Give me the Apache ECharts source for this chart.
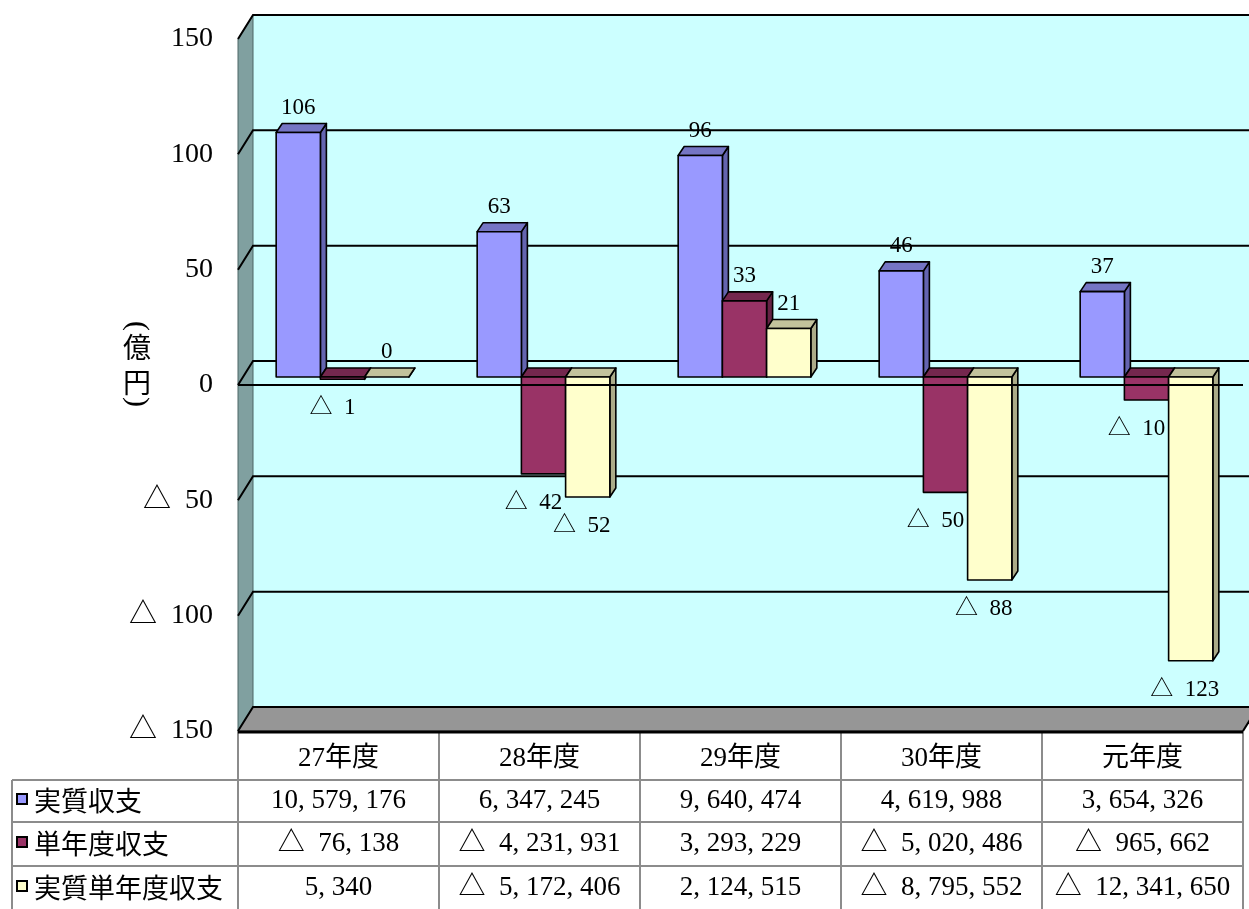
<!DOCTYPE html>
<html>
<head>
<meta charset="utf-8">
<title>実質収支・単年度収支・実質単年度収支の推移</title>
<script src="https://cdn.jsdelivr.net/npm/echarts/dist/echarts.min.js"></script>
<style>
  html, body { margin: 0; padding: 0; background: #ffffff; }
  #chart { width: 1249px; height: 909px; }
</style>
</head>
<body>
<div id="chart"></div>
<script>
// ---- data -------------------------------------------------------------
const categories = ['27年度', '28年度', '29年度', '30年度', '元年度'];
const seriesNames = ['実質収支', '単年度収支', '実質単年度収支'];

// 億円 (rounded), used for bar heights and bar labels
const realBalance = [106, 63, 96, 46, 37];
const singleYearBalance = [-1, -42, 33, -50, -10];
const realSingleYearBalance = [0, -52, 21, -88, -123];

// 千円, shown in the data table under the chart
const realBalanceTable = [10579176, 6347245, 9640474, 4619988, 3654326];
const singleYearBalanceTable = [-76138, -4231931, 3293229, -5020486, -965662];
const realSingleYearBalanceTable = [5340, -5172406, 2124515, -8795552, -12341650];

// value axis range (億円)
const yMin = -150;
const yMax = 150;
const yStep = 50;
const unitLabel = ['(', '億', '円', ')'];

// ---- layout & style ---------------------------------------------------
const W = 1249, H = 909;
const GRID = { left: 238, right: 6, top: 39, bottom: 178 };
const WALL = { dx: 15, dy: -24 };        // depth of the back wall
const BAR_PLANE = { dx: 4, dy: -8 };     // where bar front faces sit
const BAR_DEPTH = { dx: 6, dy: -9 };     // thickness of each bar
const BAR_RATIO = 0.22;                  // bar width / category band
const NEG_LABEL_NUDGE = [0, -10, -6];    // horizontal nudge of negative labels per series

const SERIF = '"Liberation Serif", "Noto Sans CJK JP", serif';
const SANS_JP = '"Noto Sans CJK JP", sans-serif';
const NEG = '△  ';

const palette = [
  { front: '#9999ff', top: '#7575c4', side: '#6464b0' },
  { front: '#993366', top: '#74274e', side: '#662244' },
  { front: '#ffffcc', top: '#c2c29c', side: '#abab88' }
];

const barSeriesValues = [realBalance, singleYearBalance, realSingleYearBalance];
const tableValues = [realBalanceTable, singleYearBalanceTable, realSingleYearBalanceTable];

function fmtOku(v) {
  return v < 0 ? NEG + (-v) : String(v);
}
function fmtSen(n) {
  const s = Math.abs(n).toString().replace(/\B(?=(\d{3})+(?!\d))/g, ', ');
  return n < 0 ? NEG + s : s;
}

// ---- walls, floor and gridlines ---------------------------------------
function renderFrame(params, api) {
  const cs = params.coordSys;
  const x0 = cs.x, x1 = cs.x + cs.width;
  const yTop = cs.y, yBot = cs.y + cs.height;
  const dx = WALL.dx, dy = WALL.dy;
  const ch = [];
  ch.push({ type: 'rect', shape: { x: x0 + dx, y: yTop + dy, width: cs.width, height: cs.height },
            style: { fill: '#ccffff' } });
  ch.push({ type: 'polygon',
            shape: { points: [[x0, yTop], [x0 + dx, yTop + dy], [x0 + dx, yBot + dy], [x0, yBot]] },
            style: { fill: '#80a0a0', stroke: '#4d6666', lineWidth: 1 } });
  ch.push({ type: 'polygon',
            shape: { points: [[x0, yBot], [x0 + dx, yBot + dy], [x1 + dx, yBot + dy], [x1, yBot]] },
            style: { fill: '#969696', stroke: '#555555', lineWidth: 1 } });
  for (let v = yMin; v <= yMax; v += yStep) {
    const y = api.coord([0, v])[1];
    ch.push({ type: 'polyline',
              shape: { points: [[x0, y], [x0 + dx, y + dy], [x1 + dx + 20, y + dy]] },
              style: { stroke: '#000000', lineWidth: 2, fill: null } });
  }
  // front edge of the floor
  ch.push({ type: 'line', shape: { x1: x0, y1: yBot + 1, x2: x1, y2: yBot + 1 },
            style: { stroke: '#000000', lineWidth: 3 } });
  ch.push({ type: 'line', shape: { x1: x1, y1: yBot, x2: x1 + dx, y2: yBot + dy },
            style: { stroke: '#000000', lineWidth: 2 } });
  return { type: 'group', children: ch };
}

// front face geometry of one bar
function barBox(sIdx, api) {
  const i = api.value(0), v = api.value(1);
  const band = api.size([1, 0])[0];
  const bw = band * BAR_RATIO;
  const base = api.coord([i, 0]);
  const end = api.coord([i, v]);
  const x = base[0] - 1.5 * bw + sIdx * bw + BAR_PLANE.dx;
  const yZero = base[1] + BAR_PLANE.dy;
  const yVal = end[1] + BAR_PLANE.dy;
  return { v: v, x: x, bw: bw, yHi: Math.min(yZero, yVal), yLo: Math.max(yZero, yVal) };
}

// ---- 3D bars ------------------------------------------------------------
function makeBarSeries(sIdx) {
  const col = palette[sIdx];
  return {
    type: 'custom',
    name: seriesNames[sIdx],
    z: 3,
    clip: false,
    silent: true,
    data: barSeriesValues[sIdx].map((v, i) => [i, v]),
    renderItem: function (params, api) {
      const b = barBox(sIdx, api);
      const x = b.x, bw = b.bw, yHi = b.yHi, yLo = b.yLo;
      const ddx = BAR_DEPTH.dx, ddy = BAR_DEPTH.dy;
      const edge = { stroke: '#000000', lineWidth: 1.6, lineJoin: 'round' };
      const ch = [];
      ch.push({ type: 'polygon',
                shape: { points: [[x + bw, yHi], [x + bw + ddx, yHi + ddy], [x + bw + ddx, yLo + ddy], [x + bw, yLo]] },
                style: Object.assign({ fill: col.side }, edge) });
      ch.push({ type: 'polygon',
                shape: { points: [[x, yHi], [x + ddx, yHi + ddy], [x + bw + ddx, yHi + ddy], [x + bw, yHi]] },
                style: Object.assign({ fill: col.top }, edge) });
      if (yLo - yHi > 0.3) {
        ch.push({ type: 'rect', shape: { x: x, y: yHi, width: bw, height: yLo - yHi },
                  style: Object.assign({ fill: col.front }, edge) });
      }
      return { type: 'group', children: ch };
    }
  };
}

// ---- bar value labels (kept above every bar) -------------------------------
function makeLabelSeries(sIdx) {
  return {
    type: 'custom',
    name: seriesNames[sIdx] + '-label',
    z: 6,
    clip: false,
    silent: true,
    data: barSeriesValues[sIdx].map((v, i) => [i, v]),
    renderItem: function (params, api) {
      const b = barBox(sIdx, api);
      const neg = b.v < 0;
      return { type: 'text',
               x: b.x + b.bw / 2 + (neg ? NEG_LABEL_NUDGE[sIdx] : 0),
               y: neg ? b.yLo + 29 : b.yHi - 25,
               style: { text: fmtOku(b.v), fill: '#000000', fontSize: 23, fontFamily: SERIF,
                        align: 'center', verticalAlign: 'middle' } };
    }
  };
}

// ---- front zero line -----------------------------------------------------
function renderZeroLine(params, api) {
  const cs = params.coordSys;
  const y = api.coord([0, 0])[1];
  return { type: 'line', shape: { x1: cs.x, y1: y, x2: cs.x + cs.width, y2: y },
           style: { stroke: '#000000', lineWidth: 2 } };
}

// ---- data table -------------------------------------------------------------
function buildTable() {
  const els = [];
  const left = GRID.left, right = W - GRID.right;
  const band = (right - left) / categories.length;
  const top = H - GRID.bottom;
  const rowEdges = [top + 49, top + 91, top + 135, top + 179];
  const legendLeft = 12;
  const gray = { stroke: '#8c8c8c', lineWidth: 2 };
  const tableBottom = rowEdges[rowEdges.length - 1];

  for (let k = 0; k <= categories.length; k++) {
    const x = Math.round(left + k * band);
    els.push({ type: 'line', shape: { x1: x, y1: top, x2: x, y2: tableBottom }, style: gray });
  }
  els.push({ type: 'line', shape: { x1: legendLeft, y1: rowEdges[0], x2: legendLeft, y2: tableBottom }, style: gray });
  rowEdges.forEach(y => {
    els.push({ type: 'line', shape: { x1: legendLeft, y1: y, x2: right, y2: y }, style: gray });
  });
  seriesNames.forEach((name, r) => {
    const cy = (rowEdges[r] + rowEdges[r + 1]) / 2;
    els.push({ type: 'rect', shape: { x: 17, y: cy - 7, width: 10, height: 10 },
               style: { fill: palette[r].front, stroke: '#000000', lineWidth: 2 } });
    els.push({ type: 'text', x: 34, y: cy,
               style: { text: name, fill: '#000000', fontSize: 27, fontFamily: SANS_JP,
                        align: 'left', verticalAlign: 'middle' } });
    tableValues[r].forEach((val, c) => {
      els.push({ type: 'text', x: left + (c + 0.5) * band, y: cy,
                 style: { text: fmtSen(val), fill: '#000000', fontSize: 27, fontFamily: SERIF,
                          align: 'center', verticalAlign: 'middle' } });
    });
  });
  return els;
}

// vertical unit caption: ( 億 円 ) with the brackets turned sideways
function buildUnitLabel() {
  const ys = [326, 347, 382, 402];
  return unitLabel.map((ch, k) => {
    const paren = (k === 0 || k === unitLabel.length - 1);
    return {
      type: 'text', x: 137, y: ys[k],
      rotation: paren ? -Math.PI / 2 : 0,
      style: { text: ch, fill: '#000000', fontSize: paren ? 30 : 28,
               fontFamily: paren ? SERIF : SANS_JP, align: 'center', verticalAlign: 'middle' }
    };
  });
}

// ---- chart ------------------------------------------------------------------
const chart = echarts.init(document.getElementById('chart'), null, { renderer: 'canvas', width: W, height: H });

chart.setOption({
  backgroundColor: '#ffffff',
  animation: false,
  grid: Object.assign({ containLabel: false }, GRID),
  xAxis: {
    type: 'category',
    data: categories,
    axisLine: { show: false },
    axisTick: { show: false },
    splitLine: { show: false },
    axisLabel: { interval: 0, margin: 14, color: '#000000', fontSize: 27, fontFamily: SERIF }
  },
  yAxis: {
    type: 'value',
    min: yMin,
    max: yMax,
    interval: yStep,
    axisLine: { show: false },
    axisTick: { show: false },
    splitLine: { show: false },
    axisLabel: { margin: 25, color: '#000000', fontSize: 28, fontFamily: SERIF, formatter: fmtOku,
                 padding: [4, 0, 0, 0] }
  },
  series: [
    { type: 'custom', name: 'frame', z: 1, clip: false, silent: true, data: [[0, 0]], renderItem: renderFrame },
    makeBarSeries(0),
    makeBarSeries(1),
    makeBarSeries(2),
    { type: 'custom', name: 'zero', z: 5, clip: false, silent: true, data: [[0, 0]], renderItem: renderZeroLine },
    makeLabelSeries(0),
    makeLabelSeries(1),
    makeLabelSeries(2)
  ],
  graphic: buildTable().concat(buildUnitLabel())
});
</script>
</body>
</html>
